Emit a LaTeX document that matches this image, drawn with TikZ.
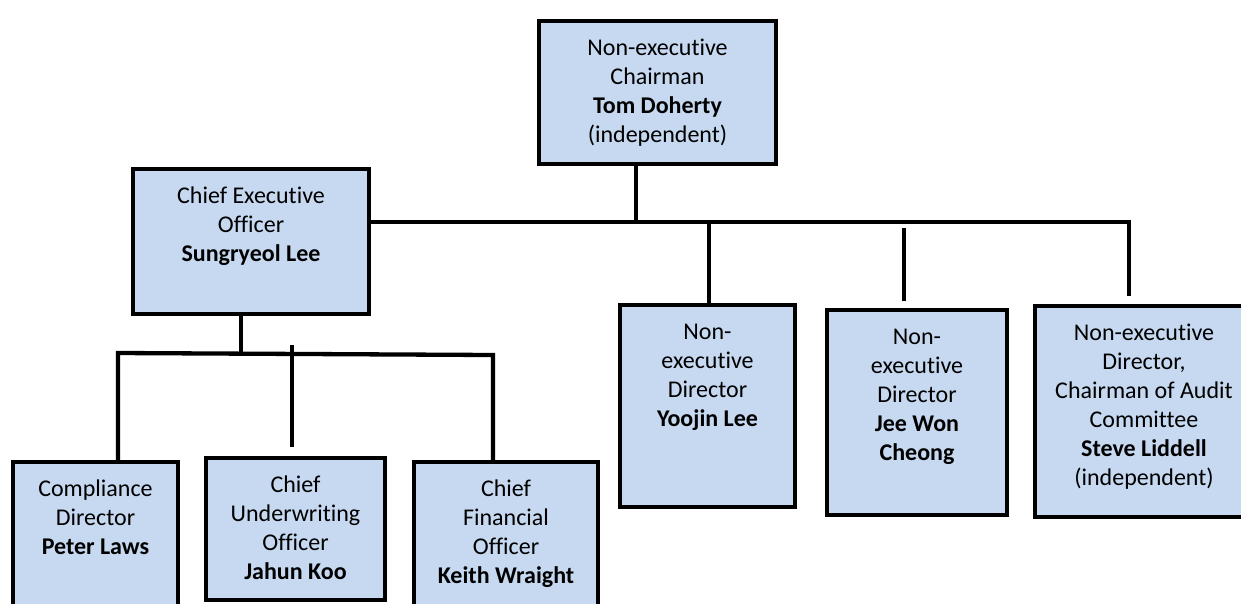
\documentclass[tikz,border=0pt]{standalone}
\usepackage{fontspec}
\setmainfont{Carlito}[Ligatures=NoCommon]
\definecolor{boxblue}{RGB}{198,217,240}
% text hangs from the top of each box
\newcommand{\boxtext}[3]{\parbox[c][#2pt][t]{#1pt}{\centering\vspace*{13.7pt}\strut#3\par}}

\begin{document}
\begin{tikzpicture}[x=1pt, y=-1pt,
    unit/.style={draw, line width=4pt, fill=boxblue, inner sep=0pt, anchor=north west,
      font=\fontsize{24}{29}\selectfont},
    link/.style={line width=4.3pt}]
  \useasboundingbox (0,0) rectangle (1241,603);
  \clip (0,0) rectangle (1241,603);

  % board
  \node[unit] (chair) at (537,19) {\boxtext{237}{143}{Non-executive\\Chairman\\\textbf{Tom Doherty}\\(independent)}};
  \node[unit] (ceo) at (131,167) {\boxtext{236}{145}{Chief Executive\\Officer\\\textbf{Sungryeol Lee}}};
  \node[unit] (yoojin) at (618,303) {\boxtext{175}{202}{Non-\\executive\\Director\\\textbf{Yoojin Lee}}};
  \node[unit] (jee) at (825,308) {\boxtext{180}{205}{Non-\\executive\\Director\\\textbf{Jee Won}\\\textbf{Cheong}}};
  \node[unit] (steve) at (1033,304) {\boxtext{218}{211}{Non-executive\\Director,\\Chairman of Audit\\Committee\\\textbf{Steve Liddell}\\(independent)}};

  % management
  \node[unit] (peter) at (11,460) {\boxtext{165}{150}{Compliance\\Director\\\textbf{Peter Laws}}};
  \node[unit] (jahun) at (204,456) {\boxtext{179}{142}{Chief\\Underwriting\\Officer\\\textbf{Jahun Koo}}};
  \node[unit] (keith) at (412,460) {\boxtext{184}{150}{Chief\\Financial\\Officer\\\textbf{Keith Wraight}}};

  % upper bus
  \coordinate (chairtap) at (636,222);
  \coordinate (yootap) at (709,222);
  \coordinate (jeetap) at (904,228);
  \coordinate (stevetap) at (1129,222);
  \draw[link] (chair.south -| chairtap) -- (chairtap);
  \draw[link, shorten >=8pt] (ceo.east |- chairtap) -- (stevetap) -- (stevetap |- steve.north);
  \draw[link] (yootap) -- (yootap |- yoojin.north);
  \draw[link, shorten >=7pt] (jeetap) -- (jeetap |- jee.north);

  % lower bus
  \coordinate (ceotap) at (241,353);
  \coordinate (petertap) at (118,353);
  \coordinate (jahuntap) at (292,345);
  \coordinate (keithtap) at (493,355);
  \draw[link] (ceo.south -| ceotap) -- (ceotap);
  \draw[link] (petertap |- peter.north) -- (petertap) -- (keithtap) -- (keithtap |- keith.north);
  \draw[link, shorten >=9pt] (jahuntap) -- (jahuntap |- jahun.north);
\end{tikzpicture}
\end{document}
